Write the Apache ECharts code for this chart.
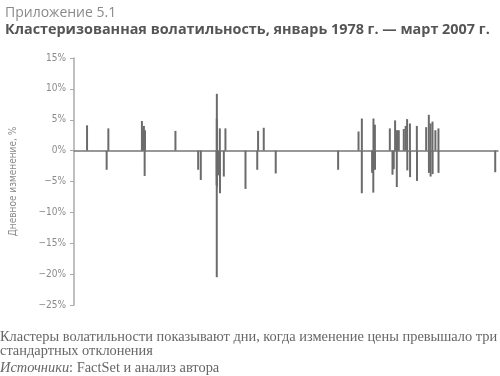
<!DOCTYPE html>
<html>
<head>
<meta charset="utf-8">
<script src="https://cdn.jsdelivr.net/npm/echarts@6/dist/echarts.min.js"></script>
<style>
  html, body { margin: 0; padding: 0; background: #fff; }
  #main { width: 500px; height: 376px; }
</style>
</head>
<body>
<div id="main"></div>
<script>
// days when the daily change exceeded three standard deviations
var dates = [
    '1978-11-01', '1980-03-10', '1980-04-22', '1982-08-17', '1982-08-20',
    '1982-10-06', '1982-10-25', '1982-11-03', '1984-12-10', '1986-07-07',
    '1986-09-11', '1987-10-16', '1987-10-19', '1987-10-20', '1987-10-21',
    '1987-10-22', '1987-10-26', '1987-11-30', '1988-01-04', '1988-01-08',
    '1988-04-14', '1988-05-25', '1989-10-13', '1990-08-06', '1990-08-27',
    '1991-01-17', '1991-11-15', '1996-03-08', '1997-08-05', '1997-10-27',
    '1997-10-28', '1998-07-14', '1998-08-13', '1998-08-17', '1998-09-22',
    '1998-09-25', '1999-10-04', '1999-12-10', '2000-01-11', '2000-02-14',
    '2000-03-10', '2000-03-28', '2000-04-16', '2000-05-17', '2000-09-20',
    '2000-11-06', '2000-12-13', '2000-12-18', '2001-02-22', '2001-02-26',
    '2001-08-16', '2001-08-20', '2002-04-08', '2002-06-14', '2002-06-17',
    '2002-07-26', '2002-07-29', '2002-09-15', '2002-09-18', '2002-11-27',
    '2003-02-12', '2003-02-14', '2007-01-15'
];
var changes = [
    4.1, -3.1, 3.6, 4.8, 3.4,
    4.0, -4.1, 3.3, 3.2, -3.1,
    -4.75, -5.6, -20.5, 5.2, 9.2,
    -4.0, -5.8, -4.0, 3.6, -6.9,
    -4.2, 3.6, -6.2, -3.1, 3.2,
    3.7, -3.7, -3.1, 3.1, -6.9,
    5.2, -3.6, -6.8, 5.2, 4.2,
    -3.1, 3.6, -3.9, -3.0, 4.9,
    3.3, -5.9, 3.3, 3.3, 3.5,
    4.0, 5.1, -3.2, 4.4, -4.3,
    4.0, -4.9, 3.8, 5.8, -3.6,
    4.4, -4.2, 4.7, -3.8, 3.3,
    3.6, -3.6, -3.5
];
var yTicks = { min: -25, max: 15, step: 5 };

var titleText = 'Приложение 5.1';
var subText = 'Кластеризованная волатильность, январь 1978 г. — март 2007 г.';
var yName = 'Дневное изменение, %';
var noteLines = [
    'Кластеры волатильности показывают дни, когда изменение цены превышало три',
    'стандартных отклонения'
];

var narrow = '"DejaVu Sans Condensed", "Liberation Sans Narrow", Roboto';

var myChart = echarts.init(document.getElementById('main'));

var barData = dates.map(function (d, i) { return [d, changes[i]]; });

var option = {
    animation: false,
    title: [
        {
            text: titleText,
            left: 0, top: 1,
            textStyle: { color: '#8a8a8a', fontFamily: 'Open Sans', fontWeight: 'normal', fontSize: 14 }
        },
        {
            text: subText,
            left: 0, top: 18,
            textStyle: { color: '#555', fontFamily: 'Open Sans', fontWeight: 'bold', fontSize: 14.4 }
        }
    ],
    graphic: [
        {
            type: 'text', left: 0, top: 330,
            style: {
                text: noteLines.join('\n'),
                fill: '#666',
                font: '14.4px "Liberation Serif"',
                lineHeight: 14
            }
        },
        {
            type: 'text', left: 0, top: 361,
            style: {
                text: '{i|Источники}: FactSet и анализ автора',
                fill: '#666',
                font: '14.4px "Liberation Serif"',
                rich: {
                    i: { fontStyle: 'italic', fontFamily: 'Liberation Serif', fontSize: 14.4, fill: '#666' }
                }
            }
        }
    ],
    grid: {
        left: 72, right: 2, top: 58, bottom: 71,
        containLabel: false
    },
    xAxis: {
        type: 'time',
        min: '1978-01-01',
        max: '2007-03-01',
        axisLine: { show: true, onZero: true, lineStyle: { color: '#777', width: 1.5 } },
        axisTick: { show: false },
        axisLabel: { show: false },
        splitLine: { show: false }
    },
    yAxis: {
        type: 'value',
        min: yTicks.min,
        max: yTicks.max,
        interval: yTicks.step,
        name: yName,
        nameLocation: 'middle',
        nameGap: 56,
        nameTextStyle: { color: '#8a8a8a', fontFamily: narrow, fontSize: 10 },
        axisLine: { show: true, lineStyle: { color: '#aaa', width: 1.5 } },
        axisTick: { show: true, length: 4, lineStyle: { color: '#aaa' } },
        axisLabel: {
            color: '#8a8a8a',
            fontFamily: narrow,
            fontSize: 10,
            margin: 8,
            formatter: function (v) { return String(v).replace('-', '−') + '%'; }
        },
        splitLine: { show: false }
    },
    series: [
        {
            name: 'Дневное изменение',
            type: 'bar',
            barWidth: 2,
            silent: true,
            itemStyle: { color: '#6b6b6b' },
            data: barData
        }
    ]
};

myChart.setOption(option);
</script>
</body>
</html>
